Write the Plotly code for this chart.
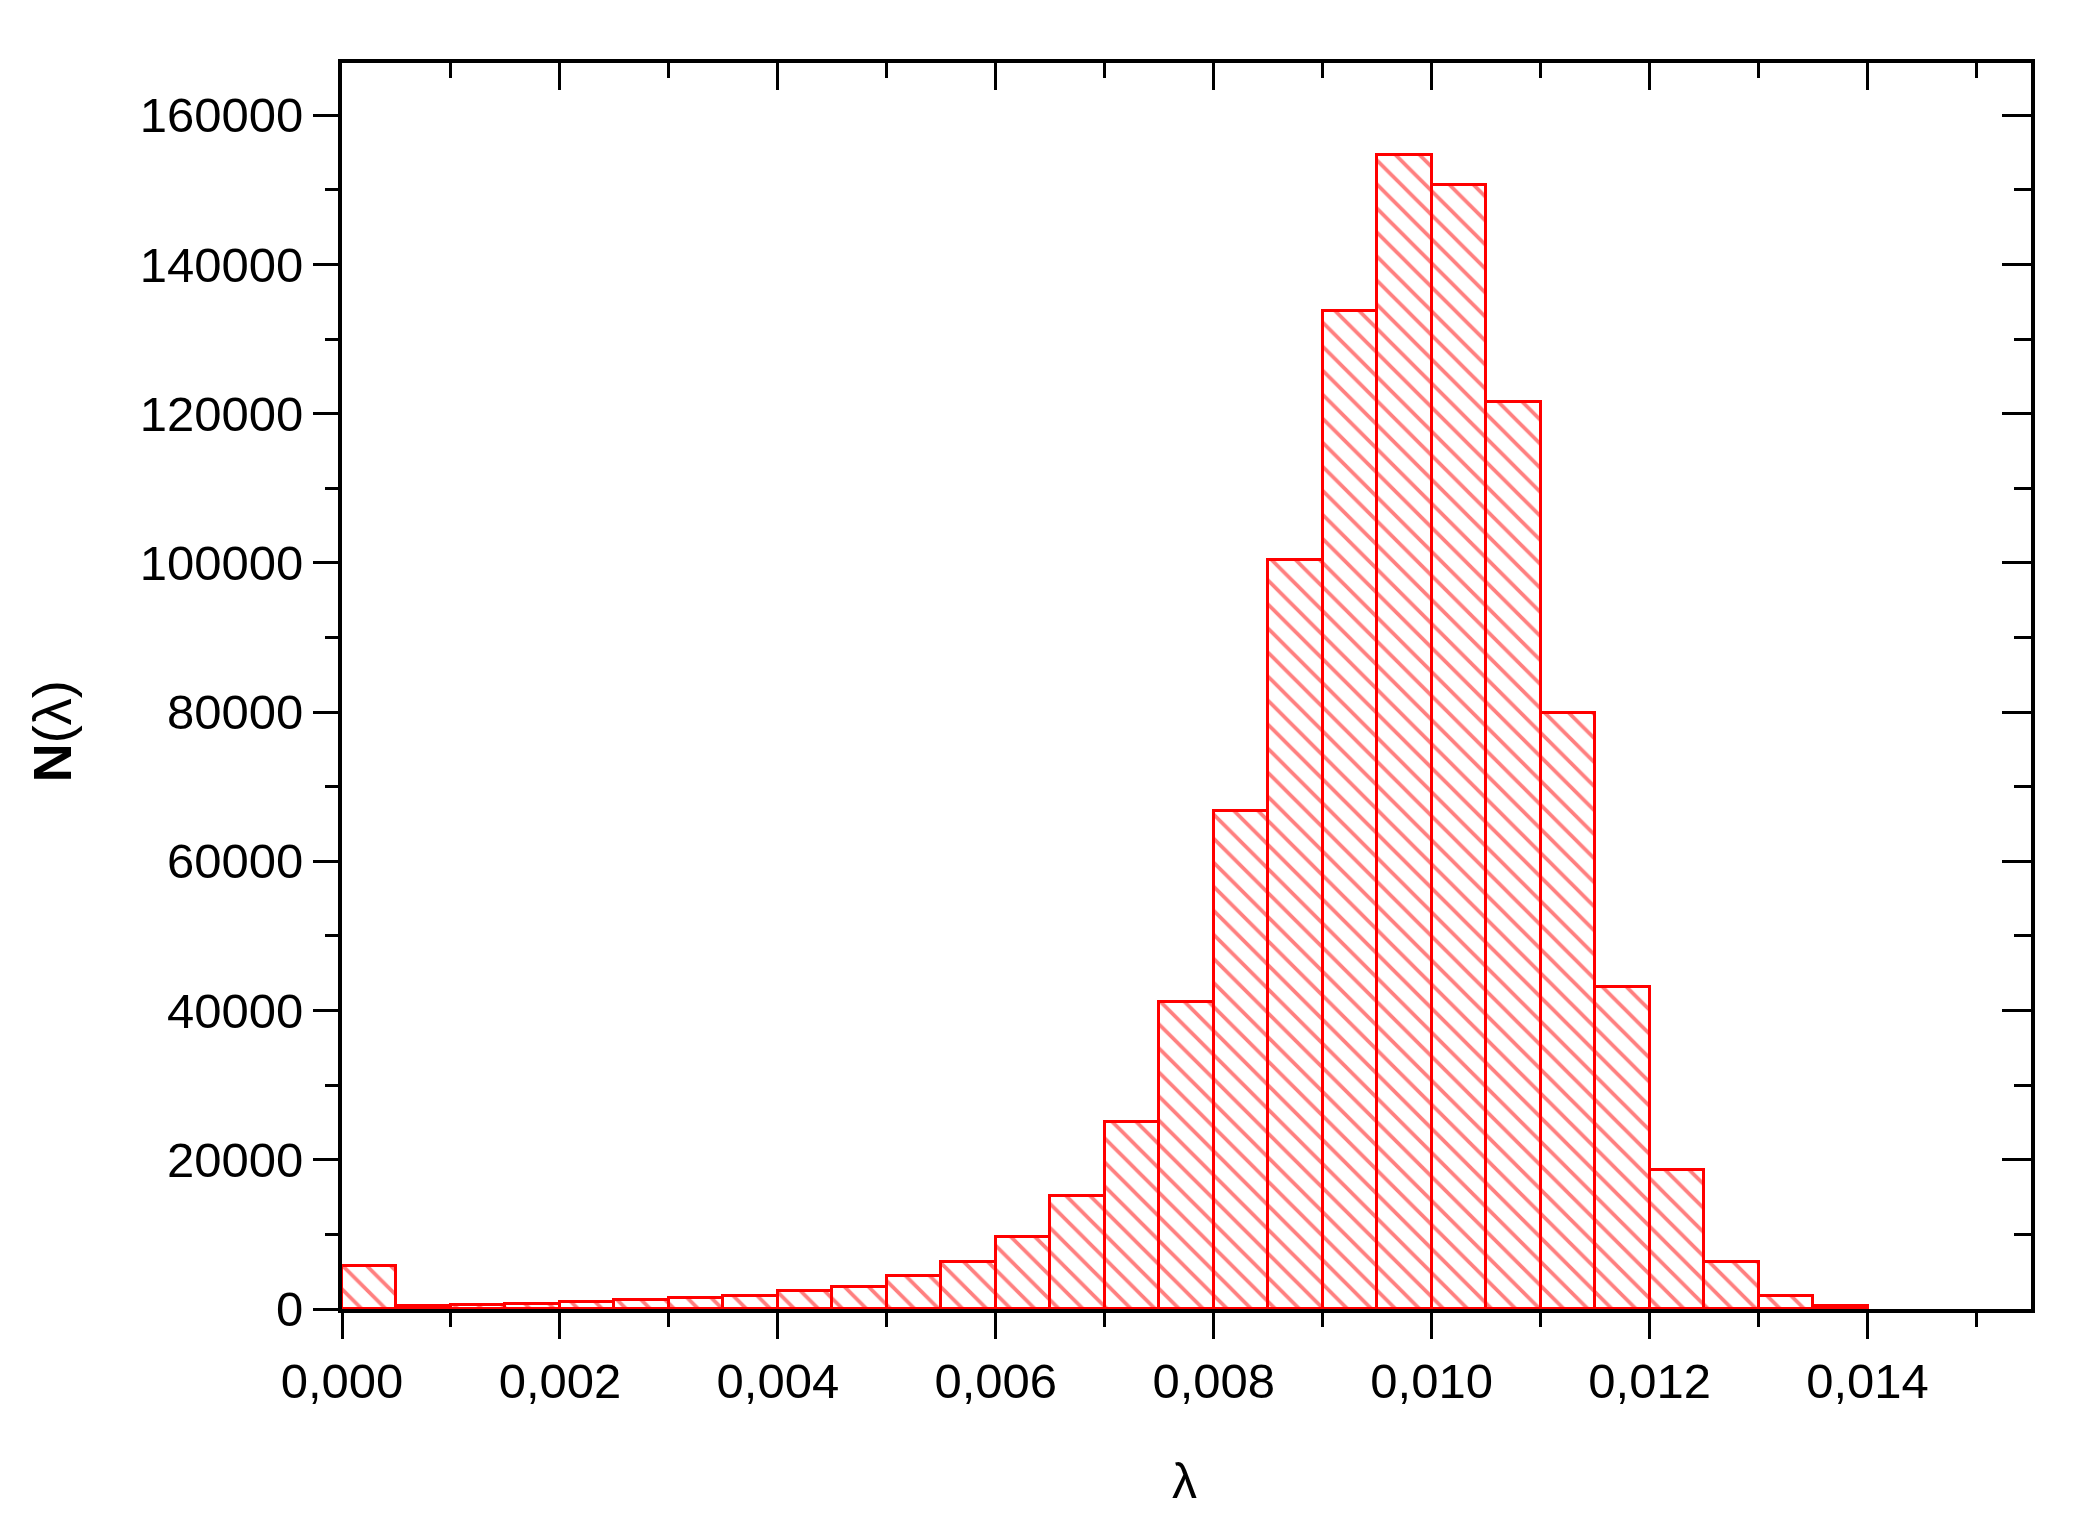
import plotly.graph_objects as go

# histogram of lambda, bin width 0.0005
bin_left = [0.0, 0.0005, 0.001, 0.0015, 0.002, 0.0025, 0.003, 0.0035,
            0.004, 0.0045, 0.005, 0.0055, 0.006, 0.0065, 0.007, 0.0075,
            0.008, 0.0085, 0.009, 0.0095, 0.01, 0.0105, 0.011, 0.0115,
            0.012, 0.0125, 0.013, 0.0135]
counts = [5800, 400, 500, 700, 1000, 1200, 1500, 1800,
          2400, 2900, 4400, 6300, 9700, 15200, 25100, 41100,
          66700, 100400, 133700, 154700, 150700, 121500, 79900, 43100,
          18600, 6300, 1750, 360]

x_tickvals = [0.0, 0.002, 0.004, 0.006, 0.008, 0.010, 0.012, 0.014]
x_ticktext = ['0,000', '0,002', '0,004', '0,006', '0,008', '0,010', '0,012', '0,014']

font = 'Liberation Sans, Arial, sans-serif'

fig = go.Figure()
fig.add_trace(go.Bar(x=bin_left, y=counts, width=0.0005, offset=0,
                     marker=dict(color='white',
                                 line=dict(color='#ff0000', width=3),
                                 pattern=dict(shape='\\', fgcolor='#ff0000', bgcolor='white',
                                              size=17, solidity=0.22, fillmode='overlay')),
                     showlegend=False))
# empty trace so the top/right axes get drawn with inward ticks
fig.add_trace(go.Scatter(x=[None], y=[None], xaxis='x2', yaxis='y2', showlegend=False))

axis_common = dict(showgrid=False, zeroline=False, linecolor='black', linewidth=4,
                   tickcolor='black', tickwidth=3,
                   tickfont=dict(family=font, size=49, color='black'))

fig.update_layout(
    width=2099, height=1535,
    margin=dict(l=334, r=76, t=55, b=234),
    paper_bgcolor='white', plot_bgcolor='white',
    bargap=0,
    xaxis=dict(range=[0, 0.0155], tickvals=x_tickvals, ticktext=x_ticktext,
               ticks='outside', ticklen=26, showline=True,
               minor=dict(dtick=0.001, tick0=0, ticks='outside', ticklen=14,
                          tickwidth=3, tickcolor='black'),
               **axis_common),
    yaxis=dict(range=[0, 167000], dtick=20000, tickformat='d',
               ticks='outside', ticklen=25, showline=True,
               minor=dict(dtick=10000, ticks='outside', ticklen=13,
                          tickwidth=3, tickcolor='black'),
               **axis_common),
    xaxis2=dict(range=[0, 0.0155], overlaying='x', side='top', tickvals=x_tickvals,
                showticklabels=False, ticks='inside', ticklen=27, showline=True,
                minor=dict(dtick=0.001, tick0=0, ticks='inside', ticklen=15,
                           tickwidth=3, tickcolor='black'),
                **axis_common),
    yaxis2=dict(range=[0, 167000], overlaying='y', side='right', dtick=20000,
                showticklabels=False, ticks='inside', ticklen=29, showline=True,
                minor=dict(dtick=10000, ticks='inside', ticklen=17,
                           tickwidth=3, tickcolor='black'),
                **axis_common),
    annotations=[
        dict(text='λ', xref='paper', yref='paper', x=0.499, y=-0.138,
             xanchor='center', yanchor='middle', showarrow=False,
             font=dict(family=font, size=50, color='black')),
        dict(text='<b>N</b>(λ)', xref='paper', yref='paper', x=-0.172, y=0.464,
             xanchor='center', yanchor='middle', textangle=-90, showarrow=False,
             font=dict(family=font, size=54, color='black')),
    ],
)

fig.write_html("out.html")
